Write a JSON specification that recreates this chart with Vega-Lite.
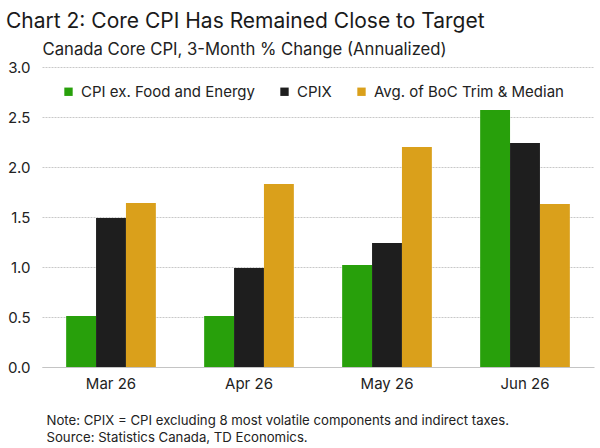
{
  "$schema": "https://vega.github.io/schema/vega-lite/v6.json",
  "width": 552,
  "height": 300,
  "autosize": "none",
  "padding": {"left": 42, "top": 67, "right": 6, "bottom": 81},
  "background": "white",
  "title": {
    "text": "Chart 2: Core CPI Has Remained Close to Target",
    "anchor": "start",
    "frame": "group",
    "dx": -36,
    "offset": 9,
    "fontSize": 21,
    "fontWeight": "normal",
    "font": "Inter",
    "color": "#1a1a1a"
  },
  "data": {
    "values": [
      {"month": "Mar 26", "series": "CPI ex. Food and Energy", "value": 0.51},
      {"month": "Mar 26", "series": "CPIX", "value": 1.49},
      {"month": "Mar 26", "series": "Avg. of BoC Trim & Median", "value": 1.64},
      {"month": "Apr 26", "series": "CPI ex. Food and Energy", "value": 0.51},
      {"month": "Apr 26", "series": "CPIX", "value": 0.99},
      {"month": "Apr 26", "series": "Avg. of BoC Trim & Median", "value": 1.83},
      {"month": "May 26", "series": "CPI ex. Food and Energy", "value": 1.02},
      {"month": "May 26", "series": "CPIX", "value": 1.24},
      {"month": "May 26", "series": "Avg. of BoC Trim & Median", "value": 2.2},
      {"month": "Jun 26", "series": "CPI ex. Food and Energy", "value": 2.57},
      {"month": "Jun 26", "series": "CPIX", "value": 2.24},
      {"month": "Jun 26", "series": "Avg. of BoC Trim & Median", "value": 1.63}
    ]
  },
  "mark": {"type": "bar"},
  "encoding": {
    "x": {
      "field": "month",
      "type": "nominal",
      "sort": ["Mar 26", "Apr 26", "May 26", "Jun 26"],
      "scale": {"paddingInner": 0.35, "paddingOuter": 0.175},
      "axis": {
        "labelAngle": 0,
        "labelFontSize": 15,
        "labelFont": "Inter",
        "labelColor": "#222222",
        "labelPadding": 9,
        "ticks": false,
        "domainColor": "#c4c4c4",
        "title": [
          "Note: CPIX = CPI excluding 8 most volatile components and indirect taxes.",
          "Source: Statistics Canada, TD Economics."
        ],
        "titleFont": "Inter",
        "titleFontSize": 13.2,
        "titleFontWeight": "normal",
        "titleColor": "#222222",
        "titleAnchor": "start",
        "titleAlign": "left",
        "titleBaseline": "top",
        "titleLineHeight": 17,
        "titleX": 4,
        "titleY": 47
      }
    },
    "xOffset": {
      "field": "series",
      "type": "nominal",
      "sort": ["CPI ex. Food and Energy", "CPIX", "Avg. of BoC Trim & Median"]
    },
    "y": {
      "field": "value",
      "type": "quantitative",
      "scale": {"domain": [0, 3], "nice": false},
      "axis": {
        "values": [0, 0.5, 1, 1.5, 2, 2.5, 3],
        "format": ".1f",
        "labelFontSize": 15,
        "labelFont": "Inter",
        "labelColor": "#222222",
        "labelPadding": 12,
        "ticks": false,
        "domain": false,
        "gridColor": "#c8c8c8",
        "gridDash": [2, 1],
        "title": "Canada Core CPI, 3-Month % Change (Annualized)",
        "titleFont": "Inter",
        "titleFontSize": 16.7,
        "titleFontWeight": "normal",
        "titleColor": "#222222",
        "titleAngle": 0,
        "titleAlign": "left",
        "titleBaseline": "alphabetic",
        "titleX": 0,
        "titleY": -13
      }
    },
    "color": {
      "field": "series",
      "type": "nominal",
      "scale": {
        "domain": ["CPI ex. Food and Energy", "CPIX", "Avg. of BoC Trim & Median"],
        "range": ["#28a00b", "#1e1e1e", "#daa01b"]
      },
      "legend": {
        "title": null,
        "orient": "none",
        "direction": "horizontal",
        "legendX": 19,
        "legendY": 17,
        "symbolType": "square",
        "symbolSize": 70,
        "symbolStrokeWidth": 0,
        "labelFont": "Inter",
        "labelFontSize": 15,
        "labelColor": "#222222",
        "labelOffset": 5,
        "labelLimit": 0,
        "columnPadding": 22
      }
    }
  },
  "config": {"view": {"stroke": null}}
}
